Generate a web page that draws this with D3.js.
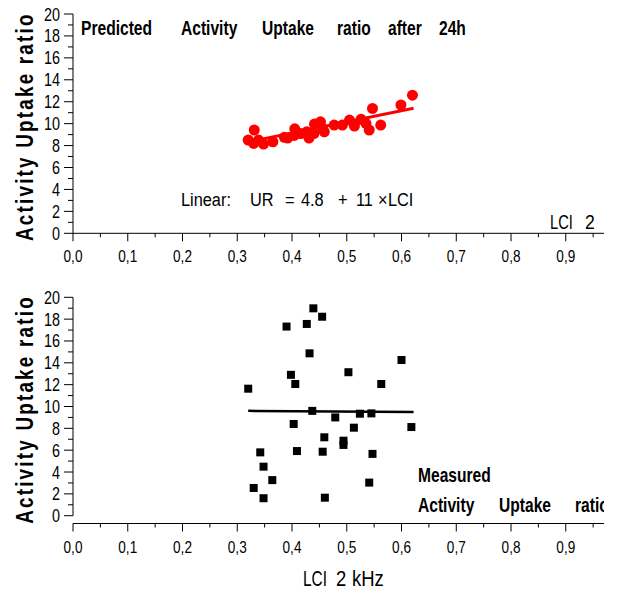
<!DOCTYPE html>
<html><head><meta charset="utf-8">
<script src="https://cdn.jsdelivr.net/npm/d3@7"></script>
<style>
body{margin:0;background:#fff;}
text{font-family:"Liberation Sans",Arial,sans-serif;}
</style></head>
<body><svg id="c" width="617" height="593"></svg>
<script>
// ---- data ----
const predX = [0.320,0.331,0.330,0.339,0.348,0.365,0.386,0.392,0.404,0.405,0.416,0.427,0.431,0.440,0.441,0.452,0.456,0.459,0.477,0.492,0.505,0.514,0.526,0.535,0.541,0.547,0.562,0.599,0.620];
const predY = [8.51,9.42,8.20,8.50,8.14,8.35,8.75,8.69,8.93,9.53,9.10,9.26,8.69,9.10,9.96,10.17,9.57,9.26,9.87,9.87,10.33,9.78,10.39,10.03,9.42,11.39,9.87,11.70,12.60];
const predFitX = [0.320, 0.622];
const predFitY = [8.33, 11.40];

const measX = [0.439,0.455,0.390,0.427,0.432,0.600,0.398,0.503,0.406,0.563,0.320,0.437,0.479,0.524,0.545,0.403,0.618,0.513,0.459,0.494,0.494,0.342,0.409,0.456,0.547,0.348,0.364,0.541,0.330,0.348,0.460];
const measY = [18.99,18.22,17.32,17.56,14.87,14.26,12.90,13.14,12.06,12.06,11.63,9.60,9.00,9.34,9.37,8.40,8.12,8.06,7.18,6.87,6.48,5.80,5.92,5.86,5.66,4.49,3.26,3.03,2.54,1.60,1.65];
const measFitX = [0.320, 0.622];
const measFitY = [9.60, 9.50];

const yMajor = [0,2,4,6,8,10,12,14,16,18,20];
const yMinor = [1,3,5,7,9,11,13,15,17,19];
const xMajor = [0,0.1,0.2,0.3,0.4,0.5,0.6,0.7,0.8,0.9];
const xMinor = [0.05,0.15,0.25,0.35,0.45,0.55,0.65,0.75,0.85,0.95];
const xTickLabels = ["0,0","0,1","0,2","0,3","0,4","0,5","0,6","0,7","0,8","0,9"];

const yTitle = "Activity Uptake ratio";
const topTitleWords = ["Predicted","Activity","Uptake","ratio","after","24h"];
const topTitleX = [81,181,262,337,388,439];
const measWords1 = ["Measured"];
const measWords2 = ["Activity","Uptake","ratio"];
const measWords2X = [418,499,575];
const eqParts = ["Linear:","UR","=","4.8","+","11","×","LCI"];
const eqX = [181,250,285,301,338,356,378,388];
const xTitleParts = ["LCI","2","kHz"];
const xTitleX = [303,336,352];
const xTitleSX = [0.7,0.84,0.84];

// ---- drawing ----
const SX = 0.8; // condensed look
const svg = d3.select("#c");
const x = d3.scaleLinear().domain([0,0.97]).range([73,604.1]);

function ctext(parent, px, py, str, size, opt={}){
  const t = parent.append("text")
    .attr("transform", `translate(${px},${py})${opt.rot?` rotate(${opt.rot})`:""} scale(${opt.sx||SX},1)`)
    .attr("font-size", size)
    .attr("text-anchor", opt.anchor||"start")
    .text(str);
  if(opt.bold) t.attr("font-weight","bold");
  if(opt.ls) t.style("letter-spacing", opt.ls+"px");
  return t;
}

function panel(yTop, yBot, xAxisY, clipId){
  const y = d3.scaleLinear().domain([0,20]).range([yBot,yTop]);
  const g = svg.append("g");
  g.append("line").attr("x1",73).attr("x2",73).attr("y1",y(20)).attr("y2",y(0)).attr("stroke","#000");
  g.selectAll(".ymaj").data(yMajor).join("line").attr("x1",64).attr("x2",73)
    .attr("y1",d=>y(d)).attr("y2",d=>y(d)).attr("stroke","#000");
  g.selectAll(".ymin").data(yMinor).join("line").attr("x1",68).attr("x2",73)
    .attr("y1",d=>y(d)).attr("y2",d=>y(d)).attr("stroke","#000");
  yMajor.forEach(d=>ctext(g, 60, y(d)+6.5, d, 18, {anchor:"end"}));
  g.append("line").attr("x1",x(0)).attr("x2",x(0.97)).attr("y1",xAxisY).attr("y2",xAxisY).attr("stroke","#000");
  g.selectAll(".xmaj").data(xMajor).join("line").attr("x1",d=>x(d)).attr("x2",d=>x(d))
    .attr("y1",xAxisY).attr("y2",xAxisY+8).attr("stroke","#000");
  g.selectAll(".xmin").data(xMinor).join("line").attr("x1",d=>x(d)).attr("x2",d=>x(d))
    .attr("y1",xAxisY).attr("y2",xAxisY+4).attr("stroke","#000");
  xMajor.forEach((d,i)=>ctext(g, x(d), xAxisY+29, xTickLabels[i], 17, {anchor:"middle"}));
  const cy = (y(0)+y(20))/2 + 3;
  ctext(g, 33, cy, yTitle, 23.5, {anchor:"middle", rot:-90, bold:true, ls:2.8});
  svg.append("clipPath").attr("id",clipId).append("rect").attr("x",73).attr("y",0).attr("width",604.1-73).attr("height",593);
  return {g,y};
}

// top panel
const T = panel(14, 233.3, 233.3, "clipTop");
const line = d3.line();
T.g.append("path").attr("d", line(predFitX.map((v,i)=>[x(v), T.y(predFitY[i])])))
  .attr("stroke","#ff0000").attr("stroke-width",3).attr("fill","none");
T.g.selectAll(".pt").data(predX).join("circle").attr("cx",d=>x(d)).attr("cy",(d,i)=>T.y(predY[i]))
  .attr("r",5.5).attr("fill","#ff0000");
topTitleWords.forEach((w,i)=>ctext(T.g, topTitleX[i], 35, w, 19.5, {bold:true}));
eqParts.forEach((w,i)=>ctext(T.g, eqX[i], 206, w, 19, {sx:0.86}));
ctext(T.g, 550, 229, "LCI", 21, {sx:0.7});
ctext(T.g, 585, 229, "2", 21, {sx:0.84});

// bottom panel
const B = panel(297.3, 515.7, 523.5, "clipBot");
B.g.append("path").attr("d", line(measFitX.map((v,i)=>[x(v), B.y(measFitY[i])])))
  .attr("stroke","#000").attr("stroke-width",2.5).attr("fill","none");
B.g.selectAll(".sq").data(measX).join("rect").attr("x",d=>x(d)-4).attr("y",(d,i)=>B.y(measY[i])-4)
  .attr("width",8).attr("height",8).attr("fill","#000");
const mg = B.g.append("g").attr("clip-path","url(#clipBot)");
ctext(mg, 418, 482, measWords1[0], 19.5, {bold:true});
measWords2.forEach((w,i)=>ctext(mg, measWords2X[i], 512, w, 19.5, {bold:true}));
xTitleParts.forEach((w,i)=>ctext(svg, xTitleX[i], 586, w, 22, {sx:xTitleSX[i]}));
</script>
</body></html>
